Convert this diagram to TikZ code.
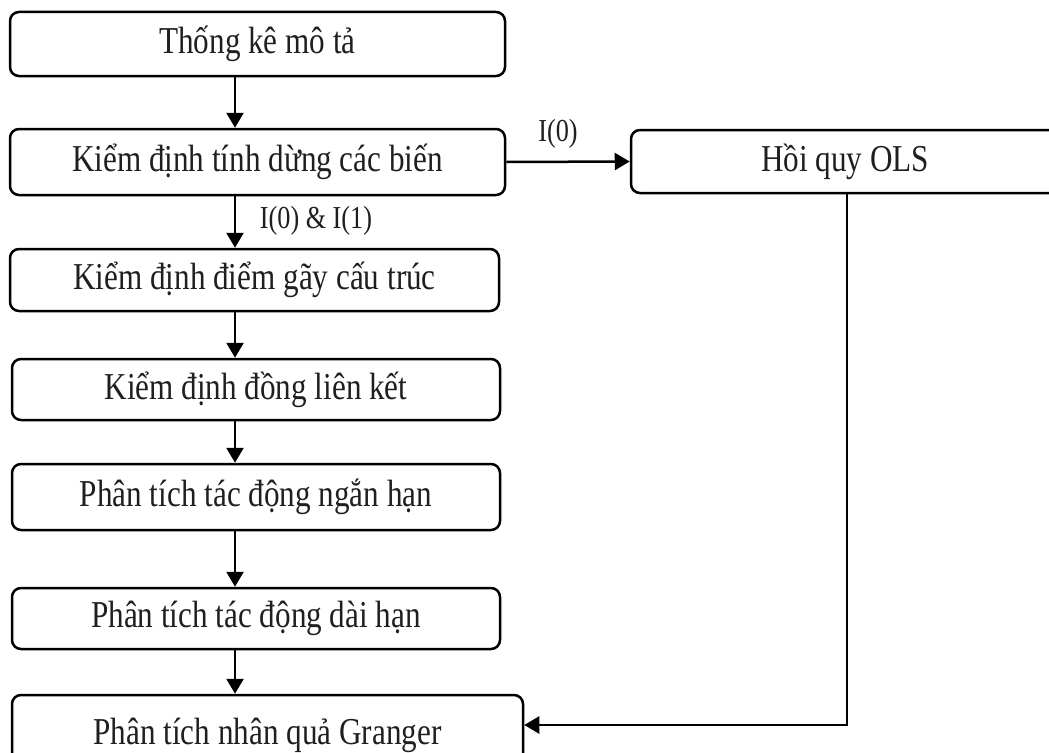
\documentclass[tikz,border=0pt]{standalone}
\usepackage{fontspec}
\setmainfont{Liberation Serif}[FakeStretch=0.82]
\usetikzlibrary{arrows.meta}
\tikzset{
  box/.style={draw, line width=2.5pt, rounded corners=9pt, inner sep=0pt,
    font=\fontsize{38}{44}\selectfont, text=black!88},
  arr/.style={line width=2.5pt, -{Triangle[length=15pt,width=17pt]}},
  lbl/.style={inner sep=0pt, font=\fontsize{32}{38}\selectfont, text=black!88}
}
\begin{document}
\begin{tikzpicture}[x=1pt,y=-1pt]
\useasboundingbox (0,0) rectangle (1049,752);
\clip (0,0) rectangle (1049,752);
\node[box, minimum width=495pt, minimum height=64pt] (b1) at (257.5,44) {Thống kê mô tả};
\node[box, minimum width=495pt, minimum height=66pt] (b2) at (257.5,162) {Kiểm định tính dừng các biến};
\node[box, minimum width=428pt, minimum height=63pt] (ols) at (845,161.5) {Hồi quy OLS};
\node[box, minimum width=489pt, minimum height=62pt] (b3) at (254.5,280) {Kiểm định điểm gãy cấu trúc};
\node[box, minimum width=488pt, minimum height=61pt] (b4) at (256,389.5) {Kiểm định đồng liên kết};
\node[box, minimum width=488pt, minimum height=66pt] (b5) at (256,497) {Phân tích tác động ngắn hạn};
\node[box, minimum width=488pt, minimum height=61pt] (b6) at (256,618.5) {Phân tích tác động dài hạn};
\node[box, minimum width=511pt, minimum height=80pt] (b7) at (267.5,735) {Phân tích nhân quả Granger};
\coordinate (ax) at (235,0);
\coordinate (v) at (847,725);
\draw[arr] (b1.south -| ax) -- (b2.north -| ax);
\draw[arr] (b2.south -| ax) -- (b3.north -| ax);
\draw[arr] (b3.south -| ax) -- (b4.north -| ax);
\draw[arr] (b4.south -| ax) -- (b5.north -| ax);
\draw[arr] (b5.south -| ax) -- (b6.north -| ax);
\draw[arr] (b6.south -| ax) -- (b7.north -| ax);
\draw[arr] (b2.east) -- (ols.west);
\draw[arr] (ols.south -| v) -- (v) -- (v -| b7.east);
\node[lbl] (l0) at (558,134) {I(0)};
\node[lbl] (l01) at (316,221) {I(0) \& I(1)};
\end{tikzpicture}
\end{document}
